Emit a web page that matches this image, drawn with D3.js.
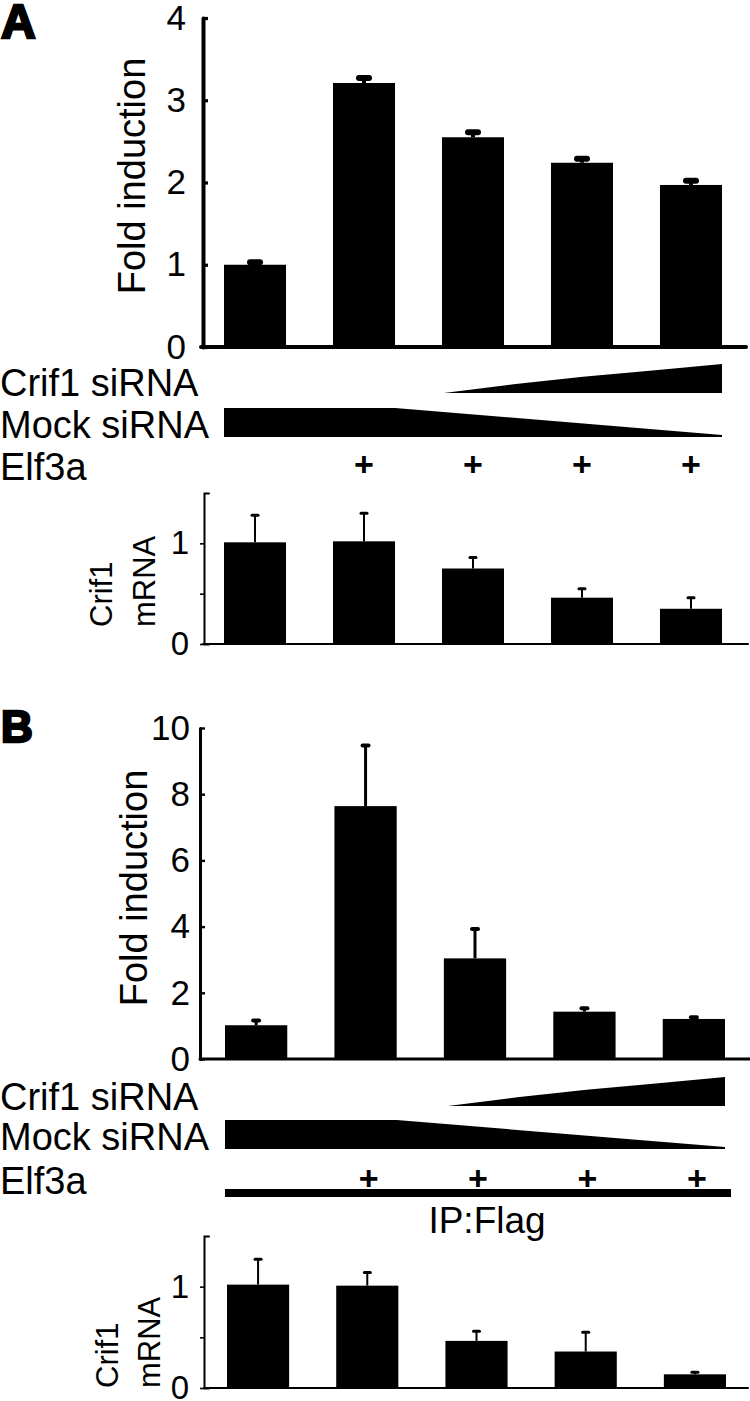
<!DOCTYPE html>
<html>
<head>
<meta charset="utf-8">
<script src="https://cdn.jsdelivr.net/npm/d3@7"></script>
<style>
  body { margin: 0; background: #fff; }
  text { font-family: "Liberation Sans", Arial, sans-serif; fill: #000; }
</style>
</head>
<body>
<script>
const svgWidth = 750;
const svgHeight = 1401;

// lanes, left to right
const lanes = ['mock', 'elf3a', 'crif1Low', 'crif1Mid', 'crif1High'];
const elf3a = ['', '+', '+', '+', '+'];

// Panel A
const foldA = [1.0, 3.21, 2.55, 2.24, 1.97];
const foldAErr = [0.03, 0.06, 0.06, 0.05, 0.05];
const mrnaA = [1.01, 1.02, 0.75, 0.46, 0.35];
const mrnaAErr = [0.27, 0.28, 0.11, 0.09, 0.11];

// Panel B
const foldB = [1.02, 7.64, 3.04, 1.43, 1.21];
const foldBErr = [0.14, 1.83, 0.89, 0.10, 0.05];
const mrnaB = [1.02, 1.01, 0.465, 0.36, 0.135];
const mrnaBErr = [0.25, 0.13, 0.095, 0.19, 0.02];

// tick labels
const foldTicksA = [0, 1, 2, 3, 4];
const foldTicksB = [0, 2, 4, 6, 8, 10];
const mrnaTicks = [0, 0.5, 1];

// wedge profile (relative height along the wedge)
const crifProfile = [0, 0.3, 0.56, 0.78, 1];

const svg = d3.select('body')
  .append('svg')
  .attr('width', svgWidth)
  .attr('height', svgHeight);

function drawBars(o) {
  const g = svg.append('g');
  const x = d3.scaleBand()
    .domain(lanes)
    .range(o.xRange)
    .paddingInner(0.431);
  const y = d3.scaleLinear()
    .domain(o.domain)
    .range(o.yRange);
  const bw = x.bandwidth();

  g.selectAll('rect.bar')
    .data(lanes)
    .join('rect')
    .attr('class', 'bar')
    .attr('x', d => x(d))
    .attr('width', bw)
    .attr('y', (d, i) => y(o.values[i]))
    .attr('height', (d, i) => y(0) - y(o.values[i]))
    .attr('fill', '#000');

  // error bars
  g.selectAll('line.stem')
    .data(lanes)
    .join('line')
    .attr('class', 'stem')
    .attr('x1', d => x(d) + bw / 2)
    .attr('x2', d => x(d) + bw / 2)
    .attr('y1', (d, i) => y(o.values[i]))
    .attr('y2', (d, i) => y(o.values[i] + o.errors[i]))
    .attr('stroke', '#000')
    .attr('stroke-width', o.stemWidth);
  g.selectAll('line.cap')
    .data(lanes)
    .join('line')
    .attr('class', 'cap')
    .attr('x1', d => x(d) + bw / 2 - o.capHalf)
    .attr('x2', d => x(d) + bw / 2 + o.capHalf)
    .attr('y1', (d, i) => y(o.values[i] + o.errors[i]))
    .attr('y2', (d, i) => y(o.values[i] + o.errors[i]))
    .attr('stroke', '#000')
    .attr('stroke-width', o.capWidth)
    .attr('stroke-linecap', 'round');

  // baseline
  g.append('line')
    .attr('x1', o.baseline[0])
    .attr('x2', o.baseline[1])
    .attr('y1', y(0))
    .attr('y2', y(0))
    .attr('stroke', '#000')
    .attr('stroke-width', o.axisWidth)
    .attr('stroke-linecap', 'round');

  // y axis
  const axis = d3.axisLeft(y)
    .tickValues(o.ticks)
    .tickFormat(d => (d === 0.5 ? '' : d))
    .tickSizeInner(o.tickInner)
    .tickSizeOuter(o.tickOuter)
    .tickPadding(o.tickPadding);
  const axisG = g.append('g')
    .attr('transform', `translate(${o.axisX},0)`)
    .call(axis);
  axisG.select('.domain')
    .attr('stroke-width', o.axisWidth)
    .attr('stroke-linecap', 'round');
  axisG.selectAll('.tick line')
    .attr('stroke-width', o.axisWidth * 0.8);
  axisG.selectAll('.tick text')
    .attr('font-size', o.tickFont)
    .attr('font-family', '"Liberation Sans", Arial, sans-serif')
    .attr('fill', '#000');

  return x;
}

function drawRows(x, o) {
  const bw = x.bandwidth();
  const g = svg.append('g');
  g.append('text').attr('x', 0).attr('y', o.crifText).attr('font-size', 38).text('Crif1 siRNA');
  g.append('text').attr('x', 0).attr('y', o.mockBase + 1).attr('font-size', 38).text('Mock siRNA');
  g.append('text').attr('x', 0).attr('y', o.elfBase).attr('font-size', 38).text('Elf3a');

  // Crif1 siRNA wedge (increasing)
  const cs = x(lanes[2]) + o.crifShift;
  const ce = x(lanes[4]) + bw;
  const crifPts = crifProfile.map((p, i) => [cs + (ce - cs) * i / (crifProfile.length - 1), o.crifBase - o.wedgeH * p]);
  crifPts.push([ce, o.crifBase], [cs, o.crifBase]);
  g.append('path')
    .attr('d', d3.line()(crifPts) + 'Z')
    .attr('fill', '#000');

  // Mock siRNA wedge (flat, then decreasing)
  const ms = x(lanes[0]);
  const mf = x(lanes[1]) + bw;
  const me = x(lanes[4]) + bw;
  const mockPts = [
    [ms, o.mockBase - o.wedgeH],
    [mf, o.mockBase - o.wedgeH],
    [me, o.mockBase - 2],
    [me, o.mockBase],
    [ms, o.mockBase]
  ];
  g.append('path')
    .attr('d', d3.line()(mockPts) + 'Z')
    .attr('fill', '#000');

  // Elf3a plus signs
  g.selectAll('text.plus')
    .data(lanes)
    .join('text')
    .attr('class', 'plus')
    .attr('x', d => x(d) + bw / 2 + o.plusShift)
    .attr('y', o.plusBase)
    .attr('text-anchor', 'middle')
    .attr('font-size', 34)
    .attr('font-weight', 'bold')
    .text((d, i) => elf3a[i]);
}

function yLabel(text, x, y, size, anchor) {
  svg.append('text')
    .attr('transform', `translate(${x},${y}) rotate(-90)`)
    .attr('text-anchor', anchor)
    .attr('font-size', size)
    .text(text);
}

// ---------- Panel A ----------
svg.append('text').attr('x', 1).attr('y', 38).attr('font-size', 48)
  .attr('font-weight', 'bold').attr('stroke', '#000').attr('stroke-width', 2.5).text('A');

const xA = drawBars({
  values: foldA, errors: foldAErr, domain: [0, 4], yRange: [347, 18],
  xRange: [224, 722], baseline: [201, 746], axisX: 203, ticks: foldTicksA,
  tickInner: -5, tickOuter: 0, tickPadding: 17, tickFont: 35, axisWidth: 4,
  stemWidth: 4, capHalf: 5, capWidth: 6
});
yLabel('Fold induction', 145, 176, 38, 'middle');
drawRows(xA, { crifBase: 393, crifText: 396, mockBase: 437, elfBase: 480, plusBase: 476, wedgeH: 29, crifShift: 2, plusShift: 0 });

const xA2 = drawBars({
  values: mrnaA, errors: mrnaAErr, domain: [0, 1.5], yRange: [644, 493],
  xRange: [224, 722], baseline: [203, 748], axisX: 204, ticks: mrnaTicks,
  tickInner: 4, tickOuter: -5, tickPadding: 11, tickFont: 33, axisWidth: 2,
  stemWidth: 2, capHalf: 3, capWidth: 3
});
yLabel('Crif1', 112, 627, 31, 'start');
yLabel('mRNA', 155, 627, 31, 'start');

// ---------- Panel B ----------
svg.append('text').attr('x', 1).attr('y', 742).attr('font-size', 44)
  .attr('font-weight', 'bold').attr('stroke', '#000').attr('stroke-width', 2.5).text('B');

const xB = drawBars({
  values: foldB, errors: foldBErr, domain: [0, 10], yRange: [1059, 728],
  xRange: [225, 725], baseline: [200, 750], axisX: 200, ticks: foldTicksB,
  tickInner: -5, tickOuter: 0, tickPadding: 10, tickFont: 35, axisWidth: 3,
  stemWidth: 3, capHalf: 3, capWidth: 4
});
yLabel('Fold induction', 147, 888, 38, 'middle');
drawRows(xB, { crifBase: 1106, crifText: 1110, mockBase: 1149, elfBase: 1194, plusBase: 1190, wedgeH: 29, crifShift: 4, plusShift: 3 });

// IP:Flag bar
svg.append('rect')
  .attr('x', xB(lanes[0]))
  .attr('y', 1189)
  .attr('width', xB(lanes[4]) + xB.bandwidth() + 6 - xB(lanes[0]))
  .attr('height', 8)
  .attr('fill', '#000');
svg.append('text').attr('x', 487).attr('y', 1233).attr('text-anchor', 'middle')
  .attr('font-size', 37).text('IP:Flag');

drawBars({
  values: mrnaB, errors: mrnaBErr, domain: [0, 1.5], yRange: [1388, 1236],
  xRange: [227, 726], baseline: [204, 748], axisX: 204, ticks: mrnaTicks,
  tickInner: 4, tickOuter: -5, tickPadding: 11, tickFont: 33, axisWidth: 2,
  stemWidth: 2, capHalf: 3, capWidth: 3
});
yLabel('Crif1', 118, 1388, 31, 'start');
yLabel('mRNA', 160, 1388, 31, 'start');
</script>
</body>
</html>
